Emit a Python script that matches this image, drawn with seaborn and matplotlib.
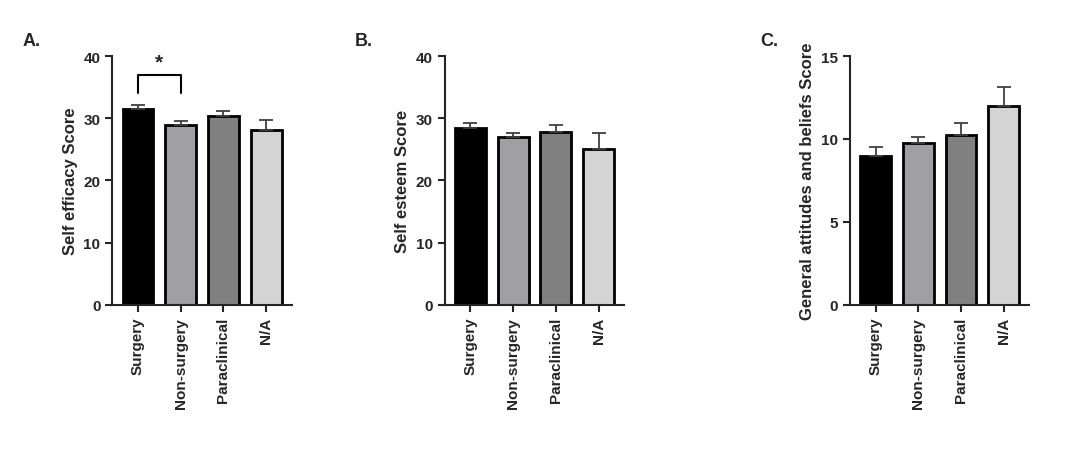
import numpy as np
import pandas as pd
import matplotlib
matplotlib.use("Agg")
import matplotlib.pyplot as plt
import seaborn as sns

groups = ["Surgery", "Non-surgery", "Paraclinical", "N/A"]
colors = ["#000000", "#a0a0a4", "#808080", "#d4d4d4"]

efficacy = [31.5, 28.9, 30.3, 28.1]
efficacy_err = [0.7, 0.7, 0.9, 1.6]
esteem = [28.5, 27.0, 27.8, 25.0]
esteem_err = [0.8, 0.6, 1.1, 2.6]
attitudes = [9.0, 9.75, 10.25, 12.0]
attitudes_err = [0.5, 0.35, 0.7, 1.15]

sns.set_style("ticks")
plt.rcParams["font.family"] = ["Liberation Sans", "DejaVu Sans"]

fig = plt.figure(figsize=(10.69, 4.6), dpi=100)
panels = [
    ("A.", efficacy, efficacy_err, "Self efficacy Score", 40, 10, 0.105),
    ("B.", esteem, esteem_err, "Self esteem Score", 40, 10, 0.416),
    ("C.", attitudes, attitudes_err, "General attitudes and beliefs Score", 15, 5, 0.795),
]

for letter, vals, errs, ylabel, ymax, step, left in panels:
    ax = fig.add_axes([left, 0.335, 0.168, 0.541])
    df = pd.DataFrame({"group": groups, "value": vals})
    sns.barplot(data=df, x="group", y="value", hue="group", palette=colors,
                edgecolor="black", linewidth=2, width=0.72, errorbar=None,
                legend=False, ax=ax)
    ax.errorbar(range(4), vals, yerr=[[0] * 4, errs], fmt="none",
                ecolor="#404040", elinewidth=1.3, capsize=5, capthick=1.3)
    ax.set_ylim(0, ymax)
    ax.set_xlim(-0.6, 3.6)
    ax.set_yticks(np.arange(0, ymax + 1, step))
    ax.set_xlabel("")
    ax.set_ylabel(ylabel, fontsize=12, fontweight="bold")
    ax.tick_params(axis="x", rotation=90, labelsize=11, width=1.5, length=5)
    ax.tick_params(axis="y", labelsize=11, width=1.5, length=5)
    for lab in ax.get_xticklabels() + ax.get_yticklabels():
        lab.set_fontweight("bold")
    for s in ["left", "bottom"]:
        ax.spines[s].set_linewidth(1.5)
    sns.despine(ax=ax)
    ax.text(-0.5, 1.03, letter, transform=ax.transAxes, fontsize=13,
            fontweight="bold", ha="left", va="bottom")
    if letter == "A.":
        ax.plot([0, 0, 1, 1], [34, 37, 37, 34], color="black", lw=1.5)
        ax.text(0.5, 37.5, "*", ha="center", va="bottom", fontsize=15,
                fontweight="bold")

fig.savefig("out.png", dpi=100)
